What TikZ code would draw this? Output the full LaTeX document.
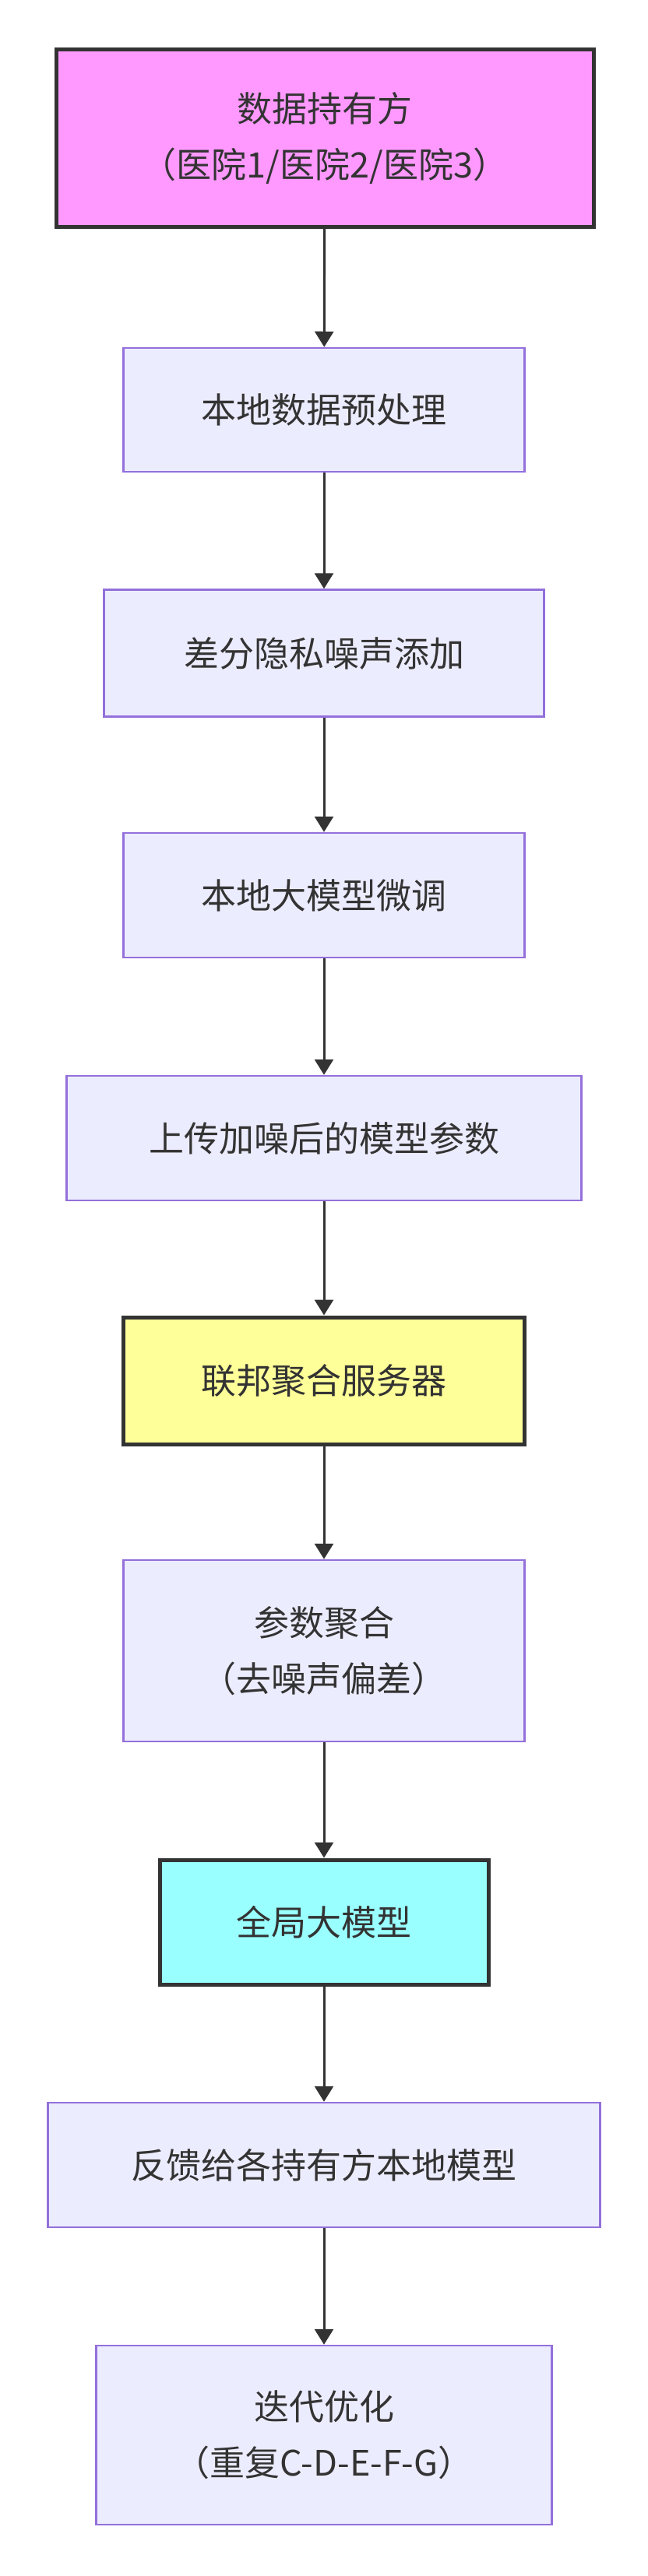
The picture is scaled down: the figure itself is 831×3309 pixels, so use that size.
\documentclass[tikz,border=0pt]{standalone}
\usepackage{fontspec}
\setmainfont{Noto Sans CJK SC}
\usetikzlibrary{arrows.meta}
\definecolor{procFill}{HTML}{ECECFF}
\definecolor{procLine}{HTML}{9370DB}
\definecolor{darkLine}{HTML}{333333}
\begin{document}
\begin{tikzpicture}[x=1pt,y=1pt,
    stepND/.style={rectangle,
                   draw=procLine,
                   fill=procFill,
                   line width=2.5pt,
                   align=center,
                   font=\fontsize{45}{72}\selectfont,
                   text=darkLine,
                   inner sep=0pt},
    keyND/.style={stepND,
                  draw=darkLine,
                  line width=5pt},
    flow/.style={-{Triangle[length=20pt,width=24pt]},
                 draw=darkLine,
                 line width=3pt}]
    \useasboundingbox (0,0) rectangle (831,-3309);
    \node[keyND, fill={rgb,255:red,255;green,153;blue,255},
          minimum width=690pt, minimum height=228pt] (A) at (417,-177)
          {数据持有方\\（医院1/医院2/医院3）};
    \node[stepND, minimum width=515pt, minimum height=159pt] (B) at (416,-526.5)
          {本地数据预处理};
    \node[stepND, minimum width=565pt, minimum height=163pt] (C) at (416,-839)
          {差分隐私噪声添加};
    \node[stepND, minimum width=515pt, minimum height=160pt] (D) at (416,-1150)
          {本地大模型微调};
    \node[stepND, minimum width=661pt, minimum height=160pt] (E) at (416,-1462)
          {上传加噪后的模型参数};
    \node[keyND, fill={rgb,255:red,255;green,255;blue,153},
          minimum width=515pt, minimum height=163pt] (F) at (416,-1773.5)
          {联邦聚合服务器};
    \node[stepND, minimum width=515pt, minimum height=233pt] (G) at (416,-2120.5)
          {参数聚合\\（去噪声偏差）};
    \node[keyND, fill={rgb,255:red,153;green,255;blue,255},
          minimum width=422pt, minimum height=160pt] (H) at (416,-2469)
          {全局大模型};
    \node[stepND, minimum width=709pt, minimum height=160pt] (I) at (416,-2781)
          {反馈给各持有方本地模型};
    \node[stepND, minimum width=585pt, minimum height=230pt] (J) at (416,-3128)
          {迭代优化\\（重复C-D-E-F-G）};
    \foreach \u/\v in {A/B,B/C,C/D,D/E,E/F,F/G,G/H,H/I,I/J}
        \draw[flow] (\u) -- (\v);
\end{tikzpicture}
\end{document}
